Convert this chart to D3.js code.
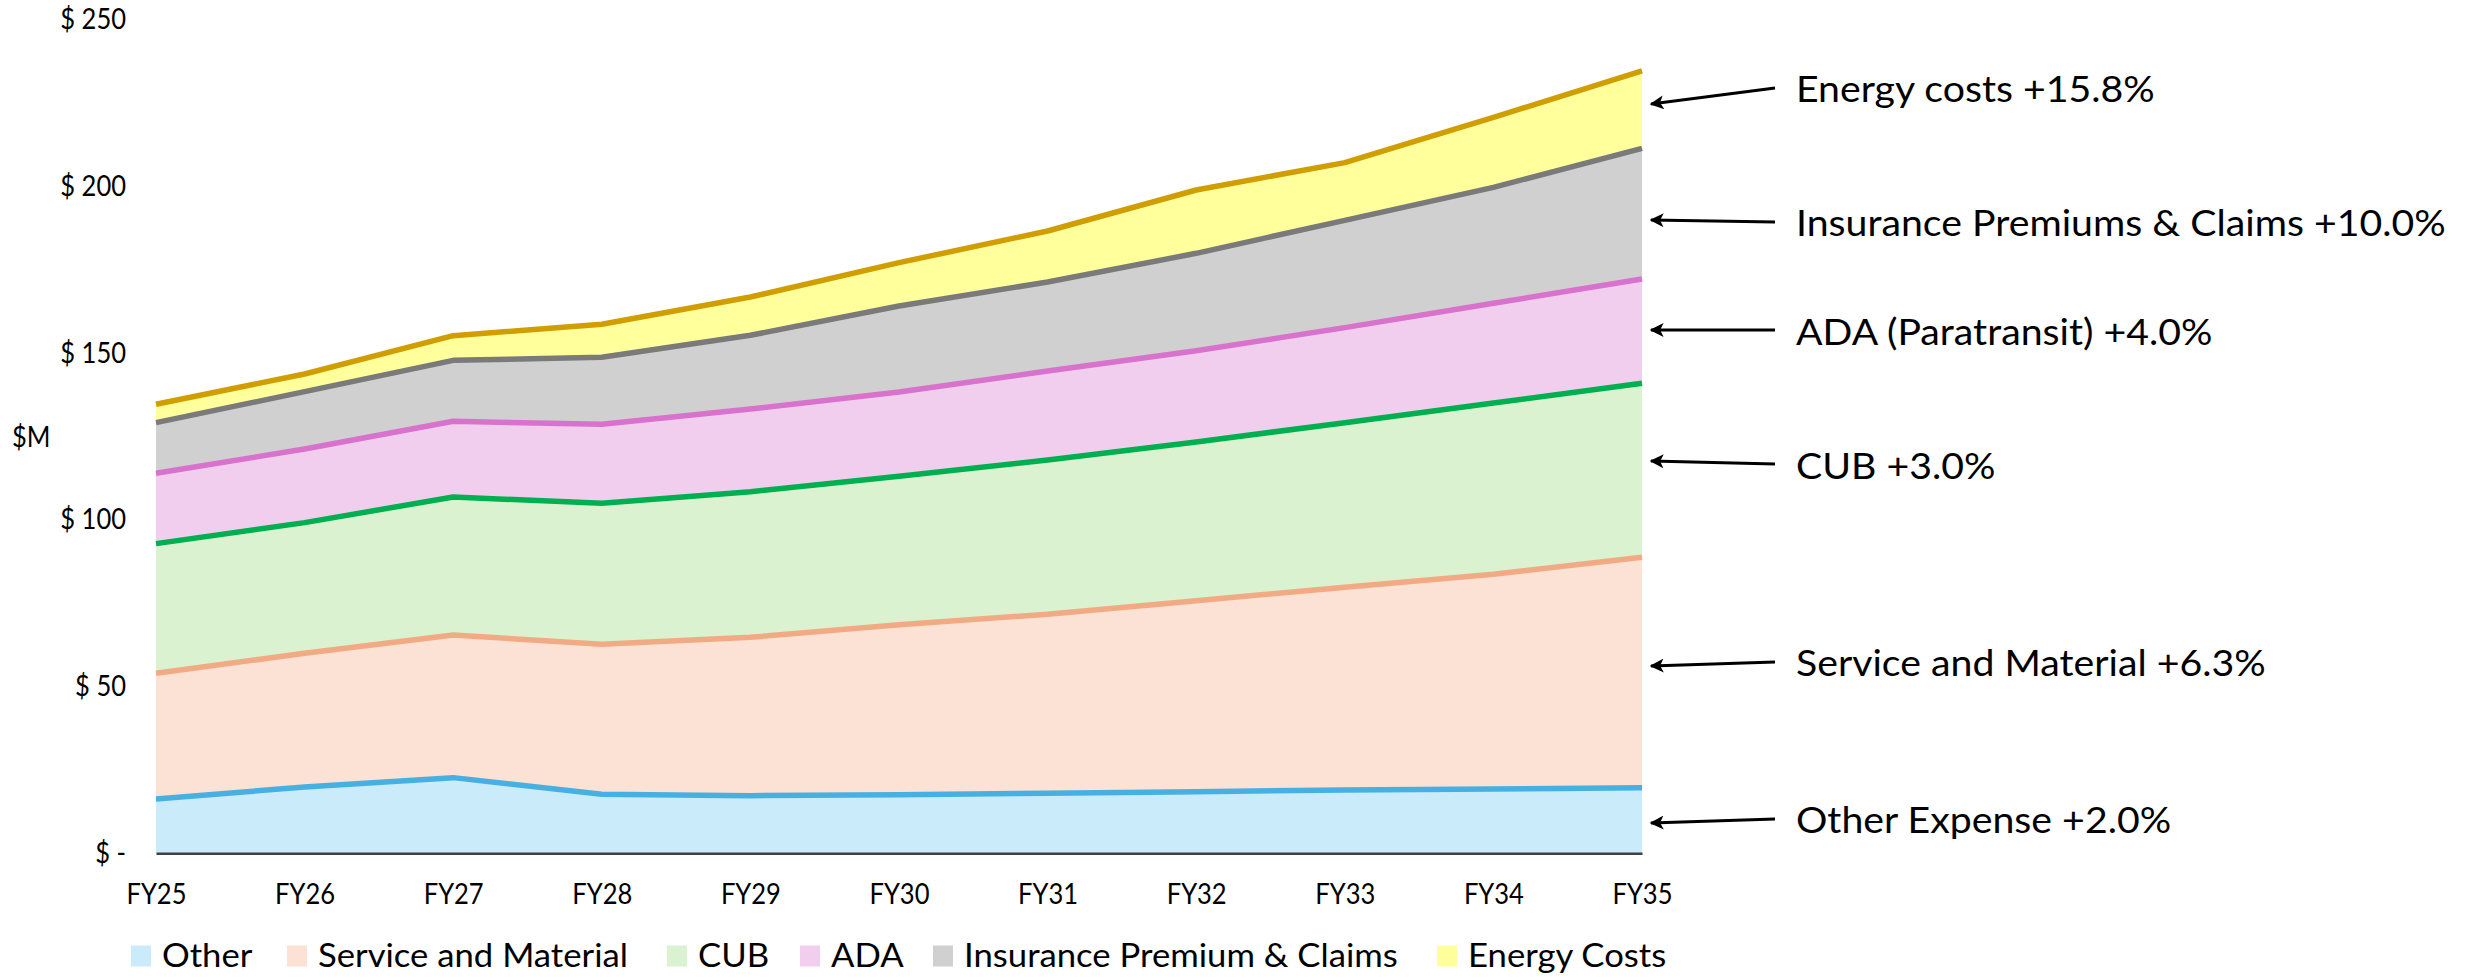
<!DOCTYPE html>
<html>
<head>
<meta charset="utf-8">
<script src="https://cdn.jsdelivr.net/npm/d3@7"></script>
<style>
  html, body { margin: 0; padding: 0; background: #ffffff; }
  svg { display: block; }
</style>
</head>
<body>
<svg id="chart" width="2473" height="978"></svg>
<script>
// Fiscal years on the x axis
const years = ["FY25", "FY26", "FY27", "FY28", "FY29", "FY30", "FY31", "FY32", "FY33", "FY34", "FY35"];

// Expense components, $M per year (stacked bottom to top)
const other     = [16.3, 19.9, 22.7, 17.7, 17.3, 17.6, 18.0, 18.5, 19.0, 19.3, 19.7];
const service   = [37.7, 40.1, 42.8, 45.0, 47.5, 51.0, 53.7, 57.3, 60.8, 64.4, 69.1];
const cub       = [38.9, 39.2, 41.4, 42.3, 43.7, 44.5, 46.3, 47.6, 49.4, 51.4, 52.2];
const ada       = [21.1, 22.1, 22.7, 23.7, 24.8, 25.3, 26.7, 27.4, 28.5, 29.9, 31.3];
const insurance = [15.2, 17.2, 18.3, 20.1, 22.1, 25.8, 26.7, 29.2, 32.2, 34.8, 39.2];
const energy    = [5.5, 5.3, 7.4, 9.9, 11.5, 13.0, 15.3, 19.0, 17.3, 21.0, 23.2];

// Legend names, in stacking order
const seriesNames = ["Other", "Service and Material", "CUB", "ADA", "Insurance Premium & Claims", "Energy Costs"];
const seriesValues = [other, service, cub, ada, insurance, energy];

// Y axis ticks
const yTicks = [0, 50, 100, 150, 200, 250];

// Growth callouts, top to bottom
const callouts = [
  "Energy costs +15.8%",
  "Insurance Premiums & Claims +10.0%",
  "ADA (Paratransit) +4.0%",
  "CUB +3.0%",
  "Service and Material +6.3%",
  "Other Expense +2.0%"
];

// ---- styling ----
const fillColors = ["#CAECFA", "#FBE2D5", "#DAF2D0", "#F2CEEE", "#D0D0D0", "#FFFF9C"];
const lineColors = ["#47B0E2", "#F2AA84", "#00B050", "#D872CC", "#7A7A7A", "#D09E00"];

// Pick an installed face
function fontExists(name) {
  const c = document.createElement("canvas").getContext("2d");
  const s = "mmmmmmmmmwwwwwlliiI 0123";
  c.font = "72px monospace";
  const a = c.measureText(s).width;
  c.font = `72px "${name}", monospace`;
  const b = c.measureText(s).width;
  return a !== b;
}
const fam = ["Liberation Sans Narrow", "Lato", "Liberation Sans", "DejaVu Sans"].find(fontExists) || "sans-serif";
const FONT = `"${fam}", sans-serif`;

const meas = document.createElement("canvas").getContext("2d");
function textWidth(str, size) {
  meas.font = `${size}px ${FONT}`;
  return meas.measureText(str).width;
}
// Text is set at a size giving the wanted letter height, then scaled
// horizontally so a reference string spans the wanted width.
function widthScale(str, size, width) { return width / textWidth(str, size); }

const axisSize = 28, legendSize = 32, calloutSize = 37.5;
const axisSx = widthScale("FY35", axisSize, 60);
const legendSx = widthScale("Service and Material", legendSize, 310);
const calloutSx = widthScale("Insurance Premiums & Claims +10.0%", calloutSize, 650);

const svg = d3.select("#chart");
const W = 2473, H = 978;
svg.append("rect").attr("width", W).attr("height", H).attr("fill", "#ffffff");

const x = d3.scalePoint().domain(years).range([156, 1642]);
const y = d3.scaleLinear().domain([0, 250]).range([853.3, 20]);

// Build the stacked table
const keys = seriesNames;
const table = years.map((yr, i) => {
  const row = { year: yr };
  keys.forEach((k, j) => { row[k] = seriesValues[j][i]; });
  return row;
});
const stacked = d3.stack().keys(keys)(table);

const area = d3.area()
  .x(d => x(d.data.year))
  .y0(d => y(d[0]))
  .y1(d => y(d[1]));
const topLine = d3.line()
  .x(d => x(d.data.year))
  .y(d => y(d[1]));

const plot = svg.append("g");
plot.selectAll("path.area")
  .data(stacked)
  .join("path")
  .attr("class", "area")
  .attr("d", area)
  .attr("fill", (d, i) => fillColors[i]);

plot.selectAll("path.edge")
  .data(stacked)
  .join("path")
  .attr("class", "edge")
  .attr("d", topLine)
  .attr("fill", "none")
  .attr("stroke", (d, i) => lineColors[i])
  .attr("stroke-width", 5.5)
  .attr("stroke-linejoin", "round");

// X axis (baseline + year labels)
const xAxis = svg.append("g")
  .attr("transform", `translate(0,${y(0)})`)
  .call(d3.axisBottom(x).tickSize(0).tickSizeOuter(0).tickPadding(0));
xAxis.select(".domain").attr("stroke", "#404040").attr("stroke-width", 2.5);
xAxis.selectAll("text")
  .attr("y", 41)
  .attr("dy", "0.35em")
  .attr("transform", `scale(${axisSx},1)`)
  .attr("font-family", FONT)
  .attr("font-size", axisSize)
  .attr("fill", "#000");

// Y axis labels
const yAxis = svg.append("g")
  .attr("transform", "translate(126,0)")
  .call(d3.axisLeft(y).tickValues(yTicks).tickSize(0).tickPadding(0)
    .tickFormat(v => v === 0 ? "$ -" : "$ " + v));
yAxis.select(".domain").remove();
yAxis.selectAll("text")
  .attr("x", 0)
  .attr("transform", `scale(${axisSx},1)`)
  .attr("font-family", FONT)
  .attr("font-size", axisSize)
  .attr("fill", "#000");

// Unit label
svg.append("text")
  .attr("transform", `translate(12,437) scale(${axisSx},1)`)
  .attr("dy", "0.35em")
  .attr("font-family", FONT)
  .attr("font-size", axisSize)
  .attr("fill", "#000")
  .text("$M");

// Legend row: swatch left edges along the bottom
const legendX = [131, 287, 667, 800, 933, 1437];
const legend = svg.append("g");
const sw = 20, swGap = 11;
const ly = 956;
seriesNames.forEach((n, i) => {
  const g = legend.append("g").attr("transform", `translate(${legendX[i]},${ly})`);
  g.append("rect").attr("x", 0).attr("y", -10.5).attr("width", sw).attr("height", 21)
    .attr("fill", fillColors[i]);
  g.append("text")
    .attr("transform", `translate(${sw + swGap},0) scale(${legendSx},1)`)
    .attr("dy", "0.35em")
    .attr("font-family", FONT).attr("font-size", legendSize).attr("fill", "#000")
    .text(n);
});

// Callout arrows and growth labels
svg.append("defs").append("marker")
  .attr("id", "head")
  .attr("viewBox", "0 0 10 10")
  .attr("refX", 9).attr("refY", 5)
  .attr("markerWidth", 5.5).attr("markerHeight", 5)
  .attr("markerUnits", "strokeWidth")
  .attr("orient", "auto")
  .append("path").attr("d", "M0,0 L10,5 L0,10 L2.5,5 Z").attr("fill", "#000");

const tipY  = [104, 220, 330, 461, 666, 823];
const tailY = [88, 222, 330, 464, 662, 819];
const textY = [89, 223, 332, 466, 663, 820];
const notes = svg.append("g");
callouts.forEach((t, i) => {
  notes.append("line")
    .attr("x1", 1775).attr("y1", tailY[i])
    .attr("x2", 1651).attr("y2", tipY[i])
    .attr("stroke", "#000").attr("stroke-width", 2.8)
    .attr("marker-end", "url(#head)");
  notes.append("text")
    .attr("transform", `translate(1796,${textY[i]}) scale(${calloutSx},1)`)
    .attr("dy", "0.35em")
    .attr("font-family", FONT).attr("font-size", calloutSize).attr("fill", "#000")
    .text(t);
});
</script>
</body>
</html>
